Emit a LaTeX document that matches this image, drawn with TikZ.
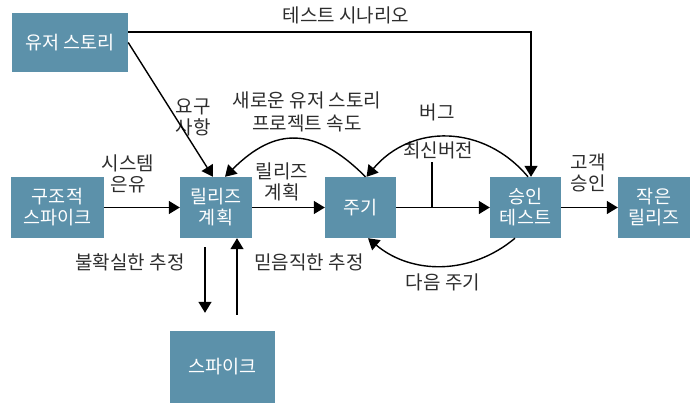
\documentclass[tikz,border=0pt]{standalone}
\usepackage{fontspec}
\newfontfamily\kr{Noto Sans CJK KR}
\usetikzlibrary{arrows.meta}
\definecolor{boxblue}{RGB}{92,145,170}
\definecolor{labelgray}{RGB}{45,45,45}

\begin{document}
\begin{tikzpicture}[x=1pt, y=1pt,
		box/.style={fill=boxblue, text=white, font=\kr\fontsize{18.5}{21}\selectfont, align=center, inner sep=0pt},
		lbl/.style={text=labelgray, font=\kr\fontsize{19}{21}\selectfont, align=center, inner sep=1pt},
		arr/.style={-{Triangle[length=11pt, width=13pt]}, line width=1.4pt}]
	\useasboundingbox (0, 0) rectangle (700, 413);

	\node[box, minimum width=116pt, minimum height=59pt] (us) at (70, 370.5) {유저 스토리};
	\node[box, minimum width=93pt, minimum height=61pt] (sp1) at (57.5, 205.5) {구조적\\스파이크};
	\node[box, minimum width=72pt, minimum height=61pt] (rp) at (216, 205.5) {릴리즈\\계획};
	\node[box, minimum width=71pt, minimum height=61pt] (cyc) at (360.5, 205.5) {주기};
	\node[box, minimum width=71pt, minimum height=61pt] (at) at (525.5, 205.5) {승인\\테스트};
	\node[box, minimum width=72pt, minimum height=61pt] (sr) at (654, 205.5) {작은\\릴리즈};
	\node[box, minimum width=105pt, minimum height=72pt] (sp) at (222.5, 46) {스파이크};

	\node[lbl] (ts) at (346, 398) {테스트 시나리오};
	\node[lbl] (req) at (193, 296) {요구\\사항};
	\node[lbl, font=\kr\fontsize{19}{23}\selectfont] (vel) at (307, 301.5) {새로운 유저 스토리\\프로젝트 속도};
	\node[lbl] (bug) at (437, 301) {버그};
	\node[lbl] (ver) at (438, 263) {최신버전};
	\node[lbl] (met) at (128, 239) {시스템\\은유};
	\node[lbl] (plan) at (282, 231) {릴리즈\\계획};
	\node[lbl] (cust) at (588, 240) {고객\\승인};
	\node[lbl] (unc) at (130, 151) {불확실한 추정};
	\node[lbl] (rel) at (309, 151) {믿음직한 추정};
	\node[lbl] (next) at (443, 131) {다음 주기};

	\coordinate (tsStart) at (128, 381);
	\coordinate (verLine) at (432, 251);

	\draw[arr] (tsStart) -| ([xshift=5.5pt]at.north);
	\draw[arr] (us.east) -- ([xshift=-3pt]rp.north);
	\draw[arr] ([xshift=5pt]cyc.north) to[out=135, in=45, looseness=1.3] ([xshift=9pt]rp.north);
	\draw[arr] ([xshift=2.5pt]at.north) to[out=130, in=50, looseness=1.1] ([xshift=6pt]cyc.north);
	\draw[arr] (sp1.east) -- (rp.west);
	\draw[arr] (rp.east) -- (cyc.west);
	\draw[arr] (cyc.east) -- (at.west);
	\draw[arr] (at.east) -- (sr.west);
	\draw[line width=1.4pt] (verLine) -- (verLine |- cyc.east);
	\draw[arr, shorten <=9pt, shorten >=18pt] ([xshift=-11pt]rp.south) -- ([xshift=-11pt]rp.south |- sp.north);
	\draw[arr, shorten <=16pt] ([xshift=21pt]rp.south |- sp.north) -- ([xshift=21pt]rp.south);
	\draw[arr] ([xshift=-10.5pt]at.south) to[out=-140, in=-40] ([xshift=7.5pt]cyc.south);
\end{tikzpicture}
\end{document}
